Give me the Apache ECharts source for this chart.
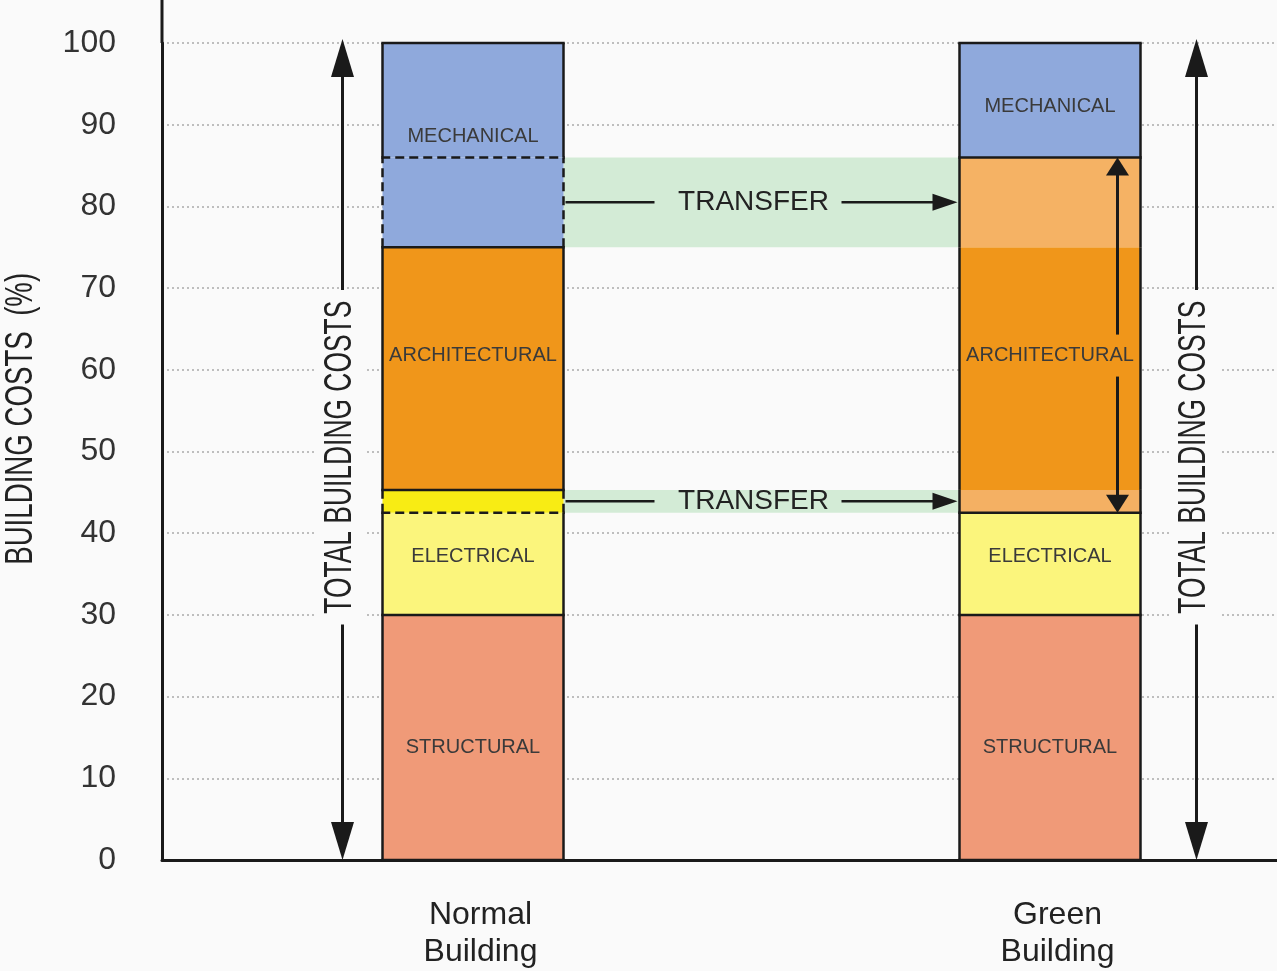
<!DOCTYPE html>
<html>
<head>
<meta charset="utf-8">
<script src="https://cdn.jsdelivr.net/npm/echarts@6.0.0/dist/echarts.min.js"></script>
<style>
html,body{margin:0;padding:0;background:#fafafa;}
#chart{width:1277px;height:971px;}
</style>
</head>
<body>
<div id="chart"></div>
<script>
// ---------------- data ----------------
const categories = ['Normal\nBuilding', 'Green\nBuilding'];
const structural = [30, 30];
const electrical = [12.5, 12.5];
const electricalTransfer = [2.8, 2.8];
const architectural = [29.7, 29.7];
const mechanicalTransfer = [11, 11];
const mechanical = [14, 14];
const yMin = 0, yMax = 100, yInterval = 10;
const yAxisTitle = 'BUILDING COSTS  (%)';
const totalLabel = 'TOTAL BUILDING COSTS';
const transferLabel = 'TRANSFER';

// ---------------- styles ----------------
const FONT = '"Liberation Sans", Arial, Helvetica, sans-serif';
const BG = '#fafafa';
const INK = '#1a1a1a';
const BAR_W = 181, SPACER_W = 45;
const GRID = {left: 162, right: -39, top: 43, bottom: 111};
const BAND = '#d3ebd6';

const segments = [
  {key: 'structural', name: 'Structural', values: structural, label: 'STRUCTURAL',
   colors: ['#f09a78', '#f09a78'], offsets: [[0, 10], [0, 10]]},
  {key: 'electrical', name: 'Electrical', values: electrical, label: 'ELECTRICAL',
   colors: ['#fbf57c', '#fbf57c'], offsets: [[0, -7], [0, -7]]},
  {key: 'electricalTransfer', name: 'Electrical (transferred)', values: electricalTransfer, label: '',
   colors: ['#f8ec14', '#f4b063'], transfer: true, source: 'electrical'},
  {key: 'architectural', name: 'Architectural', values: architectural, label: 'ARCHITECTURAL',
   colors: ['#f0961a', '#f0961a'], offsets: [[0, -13], [0, -13]]},
  {key: 'mechanicalTransfer', name: 'Mechanical (transferred)', values: mechanicalTransfer, label: '',
   colors: ['#8fa9dc', '#f5b264'], transfer: true, source: 'mechanical'},
  {key: 'mechanical', name: 'Mechanical', values: mechanical, label: 'MECHANICAL',
   colors: ['#8fa9dc', '#8fa9dc'], offsets: [[0, 36], [0, 6]]}
];

// cumulative boundaries per building
const cum = categories.map((_, i) => {
  let acc = 0; const out = [0];
  segments.forEach(s => { acc += s.values[i]; out.push(acc); });
  return out;
});
const transferIdx = segments.map((s, k) => s.transfer ? k : -1).filter(k => k >= 0);

const series = [{
  type: 'bar', name: 'spacer', stack: 'spacer', barWidth: SPACER_W, barGap: '0%',
  data: categories.map(() => 0), itemStyle: {color: 'rgba(0,0,0,0)'},
  silent: true, z: 1, emphasis: {disabled: true}
}];
segments.forEach(s => {
  series.push({
    type: 'bar', name: s.name, stack: 'main', barWidth: BAR_W, barGap: '0%', z: 2,
    emphasis: {disabled: true},
    itemStyle: {borderWidth: 0},
    label: {
      show: !!s.label, position: 'inside', formatter: s.label,
      fontFamily: FONT, fontSize: 20, color: '#3a3a3a'
    },
    data: s.values.map((v, i) => ({
      value: v,
      itemStyle: {color: s.colors[i]},
      label: s.offsets ? {offset: s.offsets[i]} : undefined
    }))
  });
});

const chart = echarts.init(document.getElementById('chart'), null, {renderer: 'canvas'});
chart.setOption({
  animation: false,
  backgroundColor: BG,
  tooltip: {show: false},
  grid: Object.assign({containLabel: false, outerBoundsMode: 'none'}, GRID),
  xAxis: {
    type: 'category', data: categories,
    axisLine: {show: true, lineStyle: {color: INK, width: 3}},
    axisTick: {show: false},
    splitLine: {show: false},
    axisLabel: {
      interval: 0, margin: 37, fontFamily: FONT, fontSize: 32, lineHeight: 37,
      color: '#222', padding: [0, 0, 0, 60]
    }
  },
  yAxis: {
    type: 'value', min: yMin, max: yMax, interval: yInterval,
    axisLine: {show: true, lineStyle: {color: INK, width: 3}},
    axisTick: {show: false},
    axisLabel: {margin: 46, fontFamily: FONT, fontSize: 32, color: '#333'},
    splitLine: {show: true, lineStyle: {color: '#ababab', width: 1.5, type: [2, 3]}}
  },
  series: series
});

// ---------------- annotations from the library's scales ----------------
const P = (i, v) => chart.convertToPixel({gridIndex: 0}, [i, v]);
const Y = v => P(0, v)[1];
function barEdges(i) {
  const c = P(i, 0)[0];
  const left = c - (SPACER_W + BAR_W) / 2 + SPACER_W;
  return [left, left + BAR_W];
}
const g = [];
function line(x1, y1, x2, y2, dash, w) {
  g.push({type: 'line', z: 10, silent: true, shape: {x1, y1, x2, y2},
    style: {stroke: INK, lineWidth: w || 2.5, lineDash: dash || null, lineCap: 'butt'}});
}
function tri(tx, ty, dir, len, hw) {
  let pts;
  if (dir === 'up') pts = [[tx, ty], [tx - hw, ty + len], [tx + hw, ty + len]];
  else if (dir === 'down') pts = [[tx, ty], [tx - hw, ty - len], [tx + hw, ty - len]];
  else pts = [[tx, ty], [tx - len, ty - hw], [tx - len, ty + hw]]; // right
  g.push({type: 'polygon', z: 10, silent: true, shape: {points: pts}, style: {fill: INK}});
}
function measure(text, font) {
  const c = document.createElement('canvas').getContext('2d');
  c.font = font; return c.measureText(text).width;
}
function vtext(text, x, y, size, length, bg) {
  const w = measure(text, size + 'px ' + FONT);
  g.push({type: 'text', z: 11, silent: true, x: x, y: y, rotation: Math.PI / 2,
    scaleX: length / w, scaleY: 1,
    style: {text: text, fontSize: size, fontFamily: FONT, fill: '#222',
      align: 'center', verticalAlign: 'middle', textAlign: 'center', textVerticalAlign: 'middle',
      backgroundColor: bg || null, padding: bg ? [5, 16] : 0}});
}
const DASH = [9, 5];

const [L0, R0] = barEdges(0);
const [L1, R1] = barEdges(1);

// transfer bands (between the two bars, below the bars)
transferIdx.forEach(k => {
  const yTop = Y(cum[0][k + 1]), yBot = Y(cum[0][k]);
  g.push({type: 'rect', z: 1, silent: true,
    shape: {x: R0, y: yTop, width: L1 - R0, height: yBot - yTop},
    style: {fill: BAND}});
});

// bar outlines and separators
categories.forEach((_, i) => {
  const [L, R] = barEdges(i);
  const b = cum[i];
  const group = s => (i === 1 && s.transfer) ? 'architectural' : s.key;
  segments.forEach((s, k) => {
    const dashed = (i === 0 && s.transfer) ? DASH : null;
    line(L, Y(b[k]), L, Y(b[k + 1]), dashed);
    line(R, Y(b[k]), R, Y(b[k + 1]), dashed);
  });
  for (let k = 0; k <= segments.length; k++) {
    const below = segments[k - 1], above = segments[k];
    if (below && above && group(below) === group(above)) continue;
    let dashed = null;
    if (i === 0 && below && above &&
        ((below.transfer && below.source === above.key) || (above.transfer && above.source === below.key))) dashed = DASH;
    line(L - 1.25, Y(b[k]), R + 1.25, Y(b[k]), dashed);
  }
});

// transfer arrows
transferIdx.forEach(k => {
  const y = Y((cum[0][k] + cum[0][k + 1]) / 2);
  const tx = (R0 + L1) / 2 - 8;
  const x0 = R0 + 2, tip = L1 - 2;
  line(x0, y, tx - 99, y, null, 2.5);
  line(tx + 88, y, tip - 20, y, null, 2.5);
  tri(tip, y, 'right', 25, 8.5);
  g.push({type: 'text', z: 11, silent: true, x: tx, y: y,
    style: {text: transferLabel, fontSize: 28, fontFamily: FONT, fill: '#222',
      align: 'center', verticalAlign: 'middle', textAlign: 'center', textVerticalAlign: 'middle'}});
});

// total building costs arrows
[L0 - 40, R1 + 56].forEach(x => {
  const top = Y(yMax) - 4, bot = Y(yMin);
  line(x, top + 20, x, bot - 20, null, 3);
  tri(x, top, 'up', 38, 11.5);
  tri(x, bot, 'down', 38, 11.5);
  vtext(totalLabel, x - 2, Y(49.3), 39, 313, BG);
});

// green building double arrow through architectural
(function () {
  const x = R1 - 23;
  const b = cum[1];
  const top = Y(b[segments.length - 1]);
  const bot = Y(b[2]);
  const labelY = (Y(b[3]) + Y(b[4])) / 2 - 13;
  line(x, top + 10, x, labelY - 21, null, 3);
  line(x, labelY + 21, x, bot - 10, null, 3);
  tri(x, top, 'up', 18, 11.5);
  tri(x, bot, 'down', 18, 11.5);
})();

// y-axis extension to top edge
line(GRID.left, 0, GRID.left, Y(yMax), null, 3);

// y-axis title
vtext(yAxisTitle, 21, Y(54), 39, 292, null);

chart.setOption({graphic: {elements: g}});
</script>
</body>
</html>
